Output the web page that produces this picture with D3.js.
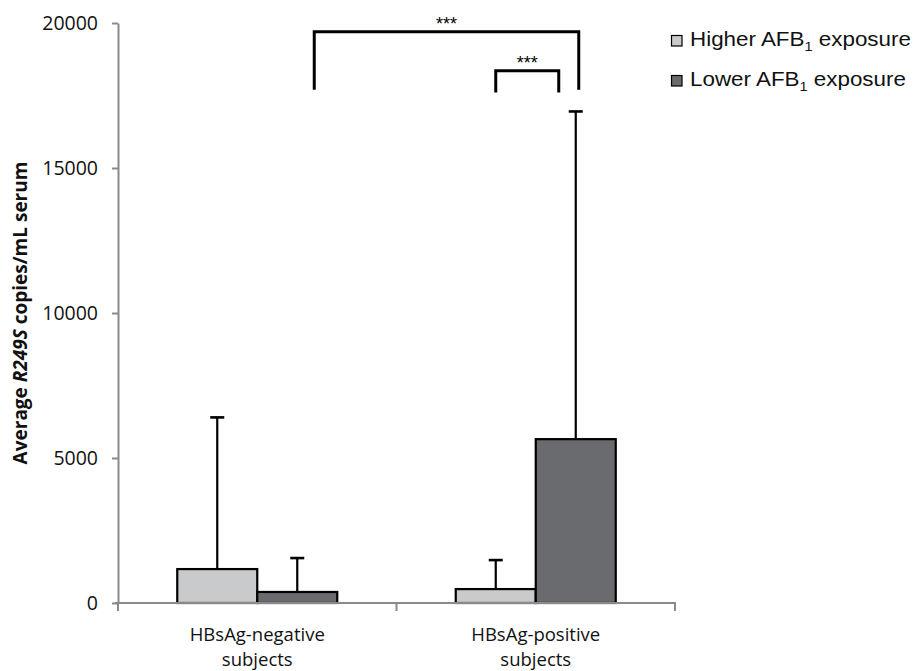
<!DOCTYPE html>
<html><head><meta charset="utf-8">
<script src="https://cdn.jsdelivr.net/npm/d3@7"></script>
<style>body{margin:0;background:#fff}svg{display:block}</style>
</head><body><svg id="c" width="917" height="671"></svg>
<script>
const categories = ["HBsAg-negative subjects", "HBsAg-positive subjects"];
const categoryLines = [["HBsAg-negative", "subjects"], ["HBsAg-positive", "subjects"]];
const seriesNames = ["Higher", "Lower"];
const higherValues = [1170, 480];
const higherErrors = [6400, 1480];
const lowerValues = [380, 5650];
const lowerErrors = [1550, 16950];
const yTicks = [0, 5000, 10000, 15000, 20000];
const seriesColors = ["#c8cacc", "#6a6b6f"];
// significance brackets: [category index, series index] pairs, y levels in data units
const brackets = [
  {from: [0, 1], to: [1, 1], fromShift: 17, toShift: 3, low: 17700, high: 19700, label: "***"},
  {from: [1, 0], to: [1, 1], fromShift: 0, toShift: -17, low: 17600, high: 18350, label: "***"}
];

(function(){
const svg = d3.select("#c");
const pl = 118, pr = 675, pt = 23, pb = 603;
const x0 = d3.scaleBand().domain(categories).range([pl, pr]).padding(0);
const x1 = d3.scaleBand().domain(seriesNames).range([(x0.bandwidth()-160)/2, (x0.bandwidth()+160)/2]).padding(0);
const y = d3.scaleLinear().domain([0, 20000]).range([pb, pt]);

const data = [];
categories.forEach((c, i) => {
  data.push({cat: c, s: "Higher", si: 0, v: higherValues[i], e: higherErrors[i]});
  data.push({cat: c, s: "Lower", si: 1, v: lowerValues[i], e: lowerErrors[i]});
});
const cx = (ci, si) => x0(categories[ci]) + x1(seriesNames[si]) + x1.bandwidth()/2;

// Y axis
const yAxis = svg.append("g").attr("transform", `translate(${pl},0)`)
  .call(d3.axisLeft(y).tickValues(yTicks).tickSize(6).tickSizeOuter(0).tickPadding(14).tickFormat(d3.format("d")));
yAxis.select(".domain").attr("stroke", "#8a8a8a").attr("stroke-width", 2);
yAxis.selectAll(".tick line").attr("stroke", "#8a8a8a").attr("stroke-width", 2);
yAxis.selectAll(".tick text").attr("font-family", "Open Sans").attr("font-size", 19.5).attr("fill", "#111");

// error bars (behind bars)
const eb = svg.append("g").attr("stroke", "#000").attr("stroke-width", 2.2);
data.forEach(d => {
  const xc = cx(categories.indexOf(d.cat), d.si);
  eb.append("line").attr("x1", xc).attr("x2", xc).attr("y1", y(d.v)).attr("y2", y(d.e));
  eb.append("line").attr("x1", xc-7).attr("x2", xc+7).attr("y1", y(d.e)).attr("y2", y(d.e)).attr("stroke-width", 2.6);
});

// bars
svg.append("g").selectAll("rect").data(data).join("rect")
  .attr("x", d => x0(d.cat) + x1(d.s))
  .attr("y", d => y(d.v))
  .attr("width", x1.bandwidth())
  .attr("height", d => y(0) - y(d.v))
  .attr("fill", d => seriesColors[d.si])
  .attr("stroke", "#000").attr("stroke-width", 2.2);

// X axis
const xAxis = svg.append("g").attr("transform", `translate(0,${pb})`)
  .call(d3.axisBottom(x0).tickSize(0).tickFormat(""));
xAxis.select(".domain").remove();
xAxis.append("line").attr("x1", pl-3).attr("x2", pr+1).attr("y1", 0).attr("y2", 0).attr("stroke", "#8a8a8a").attr("stroke-width", 2);
const xt = [pl, ...categories.map(c => x0(c) + x0.bandwidth())];
xt.forEach(t => xAxis.append("line").attr("x1", t).attr("x2", t).attr("y1", 0).attr("y2", 8).attr("stroke", "#8a8a8a").attr("stroke-width", 2));
categories.forEach((c, i) => {
  const t = svg.append("text").attr("x", x0(c) + x0.bandwidth()/2).attr("y", 641)
    .attr("text-anchor", "middle").attr("font-family", "Open Sans").attr("font-size", 18.5).attr("fill", "#111");
  categoryLines[i].forEach((ln, j) => t.append("tspan").attr("x", x0(c) + x0.bandwidth()/2).attr("dy", j ? 25 : 0).text(ln));
});

// Y title
const yt = svg.append("text").attr("transform", `translate(27,${(pt+pb)/2}) rotate(-90)`)
  .attr("text-anchor", "middle").attr("font-family", "Open Sans").attr("font-weight", "bold").attr("font-size", 19).attr("fill", "#111");
yt.append("tspan").text("Average ");
yt.append("tspan").attr("font-style", "italic").text("R249S");
yt.append("tspan").text(" copies/mL serum");

// significance brackets
const bg = svg.append("g");
brackets.forEach(b => {
  const xa = cx(b.from[0], b.from[1]) + b.fromShift;
  const xb = cx(b.to[0], b.to[1]) + b.toShift;
  bg.append("path").attr("d", `M${xa},${y(b.low)}V${y(b.high)}H${xb}V${y(b.low)}`)
    .attr("fill", "none").attr("stroke", "#000").attr("stroke-width", 3);
  bg.append("text").attr("x", (xa+xb)/2).attr("y", y(b.high) - 1.5)
    .attr("text-anchor", "middle").attr("font-family", "Liberation Sans").attr("font-size", 18).attr("fill", "#000").text(b.label);
});

// legend
const legendLabels = [["Higher AFB", "1", " exposure"], ["Lower AFB", "1", " exposure"]];
const lg = svg.append("g").attr("transform", "translate(671,35)");
legendLabels.forEach((l, i) => {
  const g = lg.append("g").attr("transform", `translate(0,${i*40})`);
  g.append("rect").attr("x", 0.5).attr("y", 0.5).attr("width", 10.5).attr("height", 10.5)
    .attr("fill", seriesColors[i]).attr("stroke", "#000").attr("stroke-width", 1.2);
  const t = g.append("text").attr("transform", "translate(19,11) scale(1.12,1)")
    .attr("font-family", "Liberation Sans").attr("font-size", 20).attr("fill", "#111");
  t.append("tspan").text(l[0]);
  t.append("tspan").attr("font-size", 13).attr("dy", 5).text(l[1]);
  t.append("tspan").attr("dy", -5).text(l[2]);
});
})();
</script></body></html>
